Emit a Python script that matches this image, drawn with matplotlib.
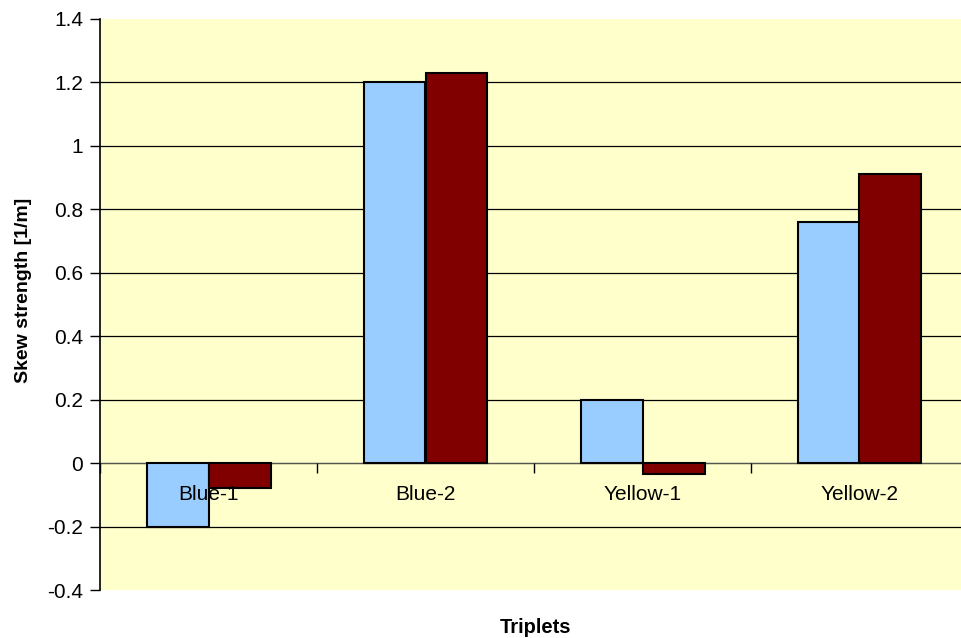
import numpy as np
import matplotlib
matplotlib.use('Agg')
import matplotlib.pyplot as plt

plt.rcParams['font.family'] = ['Liberation Sans', 'DejaVu Sans']

# data
triplets = ['Blue-1', 'Blue-2', 'Yellow-1', 'Yellow-2']
series_a = [-0.20, 1.20, 0.20, 0.76]   # light blue
series_b = [-0.08, 1.23, -0.035, 0.91]  # dark red
y_ticks = [-0.4, -0.2, 0, 0.2, 0.4, 0.6, 0.8, 1, 1.2, 1.4]
y_tick_labels = ['-0.4', '-0.2', '0', '0.2', '0.4', '0.6', '0.8', '1', '1.2', '1.4']

fig = plt.figure(figsize=(9.62, 6.38), dpi=100)
ax = fig.add_axes([100 / 962, 48 / 638, 868 / 962, 571 / 638])
ax.set_facecolor('#FFFFCC')

# gridlines (not at top / bottom edge)
for yv in y_ticks[1:-1]:
    ax.axhline(yv, color='black', linewidth=0.9, zorder=1)

x = np.arange(len(triplets))
w = 1 / 3.5
ax.bar(x - w / 2, series_a, w, color='#99CCFF', edgecolor='black', linewidth=1.5, zorder=3)
ax.bar(x + w / 2, series_b, w, color='#800000', edgecolor='black', linewidth=1.5, zorder=3)

ax.set_xlim(-0.5, len(triplets) - 0.5)
ax.set_ylim(-0.4, 1.4)
ax.set_yticks(y_ticks)
ax.set_yticklabels(y_tick_labels)
ax.tick_params(axis='y', length=7, width=1, direction='out', pad=5, labelsize=15)

ax.set_xticks(x)
ax.set_xticklabels(triplets)
ax.set_xticks(np.arange(len(triplets) + 1) - 0.5, minor=True)
ax.tick_params(axis='x', which='major', length=0, pad=16, labelsize=15)
ax.tick_params(axis='x', which='minor', length=7, width=1, direction='out')
ax.xaxis.set_zorder(4)

ax.spines['top'].set_visible(False)
ax.spines['right'].set_visible(False)
ax.spines['bottom'].set_position(('data', 0))
ax.spines['bottom'].set_color('#555555')
ax.spines['bottom'].set_zorder(2)
ax.spines['left'].set_linewidth(1.2)

ax.set_ylabel('Skew strength [1/m]', fontsize=14, fontweight='bold')
ax.yaxis.set_label_coords(-0.078, 0.524)
ax.set_xlabel('Triplets', fontsize=14.5, fontweight='bold')
ax.xaxis.set_label_coords(0.502, -0.049)

fig.savefig('out.png', dpi=100)
